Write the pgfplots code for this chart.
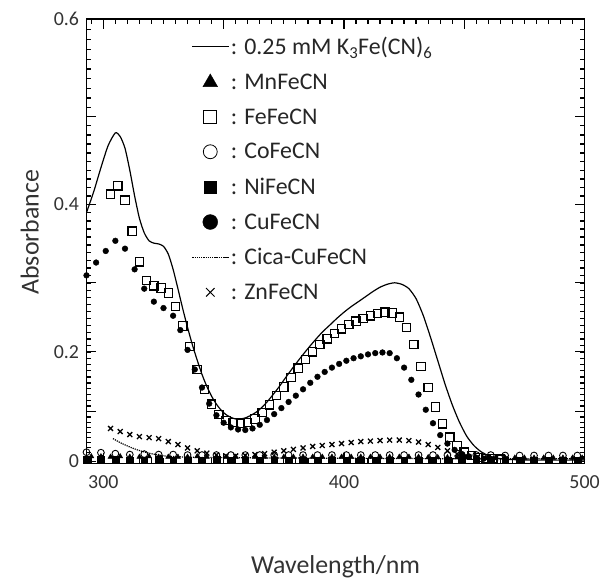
\documentclass[border=0pt]{standalone}
\usepackage{fontspec}
\setmainfont{Carlito}
\usepackage{pgfplots}
\pgfplotsset{compat=1.18}

\begin{document}
\begin{tikzpicture}
\begin{axis}[
  name=ax,
  scale only axis, width=501pt, height=447pt,
  % the printed y scale of the original is stretched towards the top
  y coord trafo/.code={\pgfmathparse{#1+1.044*(#1)^2}},
  y coord inv trafo/.code={\pgfmathparse{(sqrt(1+4.176*(#1))-1)/2.088}},
  xmin=293, xmax=500, ymin=-0.004, ymax=0.6,
  xtick={300,350,400,450,500}, xticklabels={300,,400,,500},
  ytick={0,0.1,0.2,0.3,0.4,0.5,0.6}, yticklabels={0,,0.2,,0.4,,0.6},
  minor xtick={295,300,...,500},
  minor ytick={0,0.01,...,0.6},
  tick align=inside, tick pos=both,
  major tick length=10pt, minor tick length=5pt,
  tick style={black, line width=1.3pt},
  axis line style={line width=1.4pt},
  tick label style={font=\fontsize{20}{22}\selectfont, text=black!80},
  yticklabel style={xshift=-4pt},
  xticklabel style={yshift=-9pt},
  label style={font=\fontsize{26}{28}\selectfont, text=black!80},
  xlabel={Wavelength/nm}, ylabel={Absorbance},
  xlabel style={at={(axis description cs:0.5,-0.232)}, anchor=center},
  ylabel style={at={(axis description cs:-0.1138,0.52)}, anchor=center, rotate=0},
  legend cell align=left,
  legend image code/.code={\draw[#1, mark repeat=2, mark phase=2] plot coordinates {(0pt,0pt) (18pt,0pt) (36pt,0pt)};},
  legend style={draw=none, fill=none, font=\fontsize{24}{27}\selectfont,
    at={(0.205,0.968)}, anchor=north west, row sep=13.8pt, text=black!85},
]
\addplot[black, line width=1.2pt, smooth, tension=0.4] coordinates {
(293,0.39)(296,0.415)(299,0.443)(302,0.468)(305,0.482)(307,0.478)(309,0.465)(311,0.44)(313,0.41)(315,0.383)(317,0.365)(319,0.355)(321,0.352)(323,0.351)(325,0.348)(327,0.338)(329,0.318)(331,0.292)(333,0.264)(335,0.237)(337,0.211)(339,0.187)(341,0.164)(343,0.144)(345,0.127)(347,0.113)(349,0.102)(351,0.094)(353,0.089)(355,0.086)(357,0.086)(359,0.088)(361,0.092)(364,0.1)(367,0.112)(370,0.127)(373,0.143)(376,0.16)(379,0.176)(382,0.191)(385,0.205)(388,0.218)(391,0.23)(394,0.24)(397,0.25)(400,0.259)(403,0.267)(406,0.274)(409,0.281)(412,0.288)(415,0.294)(418,0.298)(421,0.30)(424,0.298)(427,0.292)(430,0.278)(433,0.254)(436,0.222)(439,0.186)(442,0.148)(445,0.112)(448,0.08)(451,0.053)(454,0.034)(457,0.021)(460,0.013)(463,0.008)(467,0.005)(471,0.004)(480,0.003)(490,0.003)(500,0.003)};
\addlegendentry{: 0.25 mM K\textsubscript{3}Fe(CN)\textsubscript{6}}
\addplot[only marks, mark=triangle*, mark size=3pt, black, legend image post style={mark size=8.5pt}] coordinates {
(295,0.011)(299,0.011)(303,0.010)(307,0.011)(311,0.010)(315,0.010)(319,0.011)(323,0.010)(327,0.010)(331,0.010)(335,0.010)(339,0.011)(343,0.010)(347,0.010)(351,0.010)(355,0.010)(359,0.010)(363,0.010)(367,0.010)(371,0.010)(375,0.010)(379,0.010)(383,0.010)(387,0.010)(391,0.010)(395,0.010)(399,0.010)(403,0.010)(407,0.010)(411,0.010)(415,0.010)(419,0.010)(423,0.010)(427,0.010)(431,0.010)(435,0.009)(439,0.009)(443,0.009)(447,0.009)(451,0.009)(455,0.008)(459,0.008)(463,0.008)(467,0.008)(471,0.008)(475,0.008)(479,0.008)(483,0.008)(487,0.008)(491,0.008)(495,0.008)(499,0.008)};
\addlegendentry{: MnFeCN}
\addplot[only marks, mark=square, mark size=4.2pt, black, line width=1.2pt, legend image post style={mark size=6.5pt, line width=0.8pt}] coordinates {
(303,0.412)(306,0.422)(309,0.405)(312,0.367)(315,0.328)(318,0.303)(321,0.296)(324,0.293)(327,0.286)(330,0.267)(333,0.239)(336,0.208)(339,0.172)(342,0.139)(345,0.113)(348,0.094)(351,0.083)(354,0.079)(357,0.078)(360,0.079)(363,0.086)(366,0.098)(369,0.112)(372,0.128)(375,0.143)(378,0.159)(381,0.174)(384,0.188)(387,0.2)(390,0.211)(393,0.22)(396,0.228)(399,0.235)(402,0.241)(405,0.246)(408,0.25)(411,0.254)(414,0.257)(417,0.259)(420,0.258)(423,0.252)(426,0.237)(429,0.211)(432,0.177)(435,0.142)(438,0.108)(441,0.077)(444,0.051)(447,0.033)(450,0.02)(453,0.013)(456,0.009)(459,0.007)(462,0.006)(465,0.005)};
\addlegendentry{: FeFeCN}
\addplot[only marks, mark=o, mark size=3.4pt, black, line width=0.9pt, legend image post style={mark size=7pt, line width=0.8pt}] coordinates {
(293,0.020)(299,0.019)(305,0.017)(311,0.015)(317,0.016)(323,0.015)(329,0.015)(335,0.014)(341,0.014)(347,0.014)(353,0.014)(359,0.014)(365,0.014)(371,0.014)(377,0.014)(383,0.014)(389,0.014)(395,0.014)(401,0.014)(407,0.014)(413,0.014)(419,0.014)(425,0.014)(431,0.014)(437,0.014)(443,0.014)(449,0.014)(455,0.014)(461,0.014)(467,0.013)(473,0.013)(479,0.013)(485,0.013)(491,0.013)(497,0.013)};
\addlegendentry{: CoFeCN}
\addplot[only marks, mark=square*, mark size=3.4pt, black, legend image post style={mark size=6pt}] coordinates {
(293,0.004)(299,0.004)(305,0.004)(311,0.003)(317,0.003)(323,0.004)(329,0.003)(335,0.003)(341,0.003)(347,0.004)(353,0.003)(359,0.003)(365,0.003)(371,0.003)(377,0.003)(383,0.003)(389,0.003)(395,0.003)(401,0.003)(407,0.003)(413,0.003)(419,0.003)(425,0.003)(431,0.003)(437,0.003)(443,0.003)(449,0.003)(455,0.003)(461,0.003)(467,0.003)(473,0.003)(479,0.003)(485,0.003)(491,0.003)(497,0.003)};
\addlegendentry{: NiFeCN}
\addplot[only marks, mark=*, mark size=2.9pt, black, legend image post style={mark size=7.5pt}] coordinates {
(293,0.31)(297,0.327)(301,0.342)(305,0.355)(309,0.345)(313,0.318)(317,0.292)(321,0.274)(325,0.265)(329,0.254)(332,0.233)(335,0.203)(338,0.172)(341,0.142)(344,0.114)(347,0.093)(350,0.079)(353,0.07)(356,0.066)(359,0.065)(362,0.068)(365,0.075)(368,0.084)(371,0.095)(374,0.106)(377,0.117)(380,0.128)(383,0.139)(386,0.15)(389,0.16)(392,0.168)(395,0.175)(398,0.181)(401,0.186)(404,0.19)(407,0.193)(410,0.196)(413,0.198)(416,0.199)(419,0.198)(422,0.19)(425,0.175)(428,0.155)(431,0.13)(434,0.103)(437,0.078)(440,0.055)(443,0.038)(446,0.025)(449,0.016)(452,0.011)(455,0.008)(458,0.006)(461,0.005)};
\addlegendentry{: CuFeCN}
\addplot[black, line width=1.2pt, densely dotted, smooth] coordinates {
(304,0.048)(307,0.04)(310,0.033)(313,0.027)(316,0.022)(319,0.018)(323,0.014)(328,0.011)(340,0.009)(360,0.008)(400,0.007)(450,0.006)(500,0.006)};
\addlegendentry{: Cica-CuFeCN}
\addplot[only marks, mark=x, mark size=3.5pt, black, line width=1.3pt, legend image post style={mark size=6pt, line width=1pt}] coordinates {
(303,0.068)(307,0.062)(311,0.056)(315,0.052)(319,0.05)(323,0.048)(327,0.042)(331,0.036)(335,0.029)(339,0.023)(343,0.018)(347,0.014)(351,0.012)(355,0.012)(359,0.013)(363,0.015)(367,0.017)(371,0.02)(375,0.023)(379,0.026)(383,0.029)(387,0.032)(391,0.034)(395,0.036)(399,0.038)(403,0.04)(407,0.042)(411,0.043)(415,0.044)(419,0.045)(423,0.045)(427,0.044)(431,0.041)(435,0.036)(439,0.03)(443,0.023)(447,0.016)(451,0.011)(455,0.008)(459,0.007)(463,0.006)(467,0.006)};
\addlegendentry{: ZnFeCN}
\end{axis}
\path (ax.south west) ++(-87pt,-121pt) rectangle ++(603pt,587pt);
\end{tikzpicture}
\end{document}
